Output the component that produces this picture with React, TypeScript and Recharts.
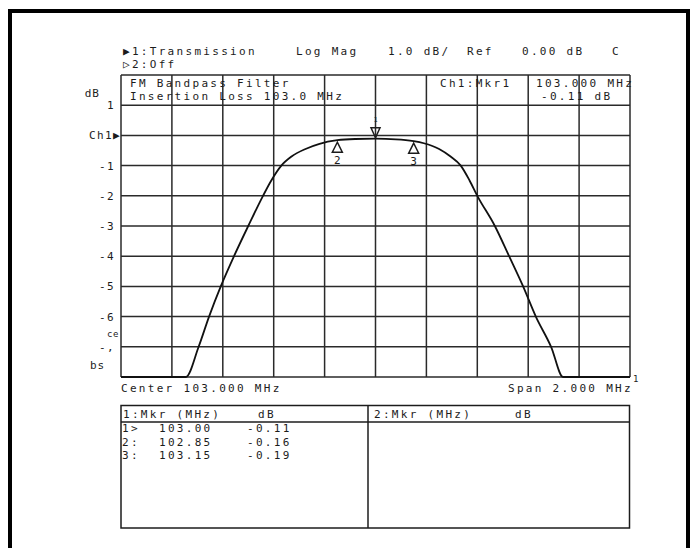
import React from 'react';
import { LineChart, Line, XAxis, YAxis, CartesianGrid, ReferenceDot } from 'recharts';

// Frequency (MHz) and transmission (dB)
const freqMHz = [102.0, 102.12, 102.255, 102.305, 102.346, 102.392, 102.444, 102.5, 102.558, 102.59, 102.63, 102.67, 102.725, 102.78, 102.85, 102.92, 103.0, 103.08, 103.15, 103.19, 103.25, 103.295, 103.335, 103.37, 103.4, 103.469, 103.525, 103.58, 103.63, 103.69, 103.737, 103.87, 104.0];
const gainDb = [-8, -8, -8, -7, -6, -5, -4, -3, -2, -1.5, -1.0, -0.7, -0.45, -0.28, -0.16, -0.12, -0.11, -0.13, -0.19, -0.26, -0.45, -0.7, -1.0, -1.5, -2, -3, -4, -5, -6, -7, -8, -8, -8];

const xTicks = [102.0, 102.2, 102.4, 102.6, 102.8, 103.0, 103.2, 103.4, 103.6, 103.8, 104.0];
const yTicks = [-8, -7, -6, -5, -4, -3, -2, -1, 0, 1, 2];
const yTickText: Record<string, string> = { '1': '1', '0': 'Ch1▶', '-1': '-1', '-2': '-2', '-3': '-3', '-4': '-4', '-5': '-5', '-6': '-6', '-7': '-,' };

const markerNames = ['1', '2', '3'];
const markerFreq = [103.0, 102.85, 103.15];
const markerDb = [-0.11, -0.16, -0.19];
const markerFreqText = ['103.00', '102.85', '103.15'];
const markerDbText = ['-0.11', '-0.16', '-0.19'];
const markerRowTag = ['1>', '2:', '3:'];

const data = freqMHz.map((f, i) => ({ f, db: gainDb[i] }));

const INK = '#1c1c1c';
const FONT = '"DejaVu Sans Mono", "Liberation Mono", monospace';
const txt: React.CSSProperties = { fontFamily: FONT, fontSize: 11, letterSpacing: 2.3, fill: INK };

const YTick = (props: any) => {
  const { x, y, payload } = props;
  const key = String(payload.value);
  const label = yTickText[key];
  if (!label) return null;
  const isRef = payload.value === 0;
  return (
    <text x={isRef ? x + 6 : x} y={y} dy={4} textAnchor="end" style={{ ...txt, letterSpacing: 1.4 }}>
      {label}
    </text>
  );
};

const DownMarker = (props: any) => {
  const { cx, cy } = props;
  if (cx == null || cy == null) return null;
  return (
    <g>
      <polygon points={`${cx - 4.5},${cy - 11} ${cx + 4.5},${cy - 11} ${cx},${cy - 1}`} fill="none" stroke={INK} strokeWidth={1.5} />
      <text x={cx} y={cy - 17} textAnchor="middle" style={{ fontFamily: FONT, fontSize: 7, fill: INK }}>1</text>
    </g>
  );
};

const UpMarker = (name: string) => (props: any) => {
  const { cx, cy } = props;
  if (cx == null || cy == null) return null;
  return (
    <g>
      <polygon points={`${cx},${cy + 2} ${cx - 5},${cy + 12} ${cx + 5},${cy + 12}`} fill="none" stroke={INK} strokeWidth={1.5} />
      <text x={cx} y={cy + 24} textAnchor="middle" style={{ ...txt, letterSpacing: 0 }}>{name}</text>
    </g>
  );
};

export default function App() {
  return (
    <div style={{ position: 'absolute', left: 0, top: 0, width: 691, height: 548, overflow: 'hidden', background: '#fff' }}>
      <div style={{ position: 'absolute', left: 8, top: 9, width: 682, height: 600, border: '4px solid #000', boxSizing: 'border-box' }} />
      <div style={{ position: 'absolute', left: 0, top: 0 }}>
        <LineChart width={691} height={548} data={data} margin={{ top: 75, right: 61, bottom: 171, left: 61 }}>
          <CartesianGrid stroke="#2a2a2a" strokeWidth={1.5} />
          <XAxis type="number" dataKey="f" domain={[102, 104]} ticks={xTicks} hide />
          <YAxis type="number" domain={[-8, 2]} ticks={yTicks} width={60} axisLine={false} tickLine={false} tickSize={0} tickMargin={6} tick={<YTick />} interval={0} />
          <Line dataKey="db" type="monotone" stroke="#111" strokeWidth={1.8} dot={false} isAnimationActive={false} />
          <ReferenceDot x={markerFreq[0]} y={markerDb[0]} r={0} shape={<DownMarker />} />
          <ReferenceDot x={markerFreq[1]} y={markerDb[1]} r={0} shape={UpMarker(markerNames[1])} />
          <ReferenceDot x={markerFreq[2]} y={markerDb[2]} r={0} shape={UpMarker(markerNames[2])} />
        </LineChart>
      </div>
      <svg width={691} height={548} style={{ position: 'absolute', left: 0, top: 0, pointerEvents: 'none' }}>
        {/* header */}
        <text x={123} y={55} style={txt}>▶1:Transmission</text>
        <text x={296} y={55} style={txt}>Log Mag</text>
        <text x={388} y={55} style={txt}>1.0 dB/</text>
        <text x={467} y={55} style={txt}>Ref</text>
        <text x={522} y={55} style={txt}>0.00 dB</text>
        <text x={612} y={55} style={txt}>C</text>
        <text x={123} y={68} style={txt}>▷2:Off</text>
        {/* annotations inside grid */}
        <text x={130} y={87} style={txt}>FM Bandpass Filter</text>
        <text x={130} y={100} style={txt}>Insertion Loss 103.0 MHz</text>
        <text x={440} y={87} style={txt}>Ch1:Mkr1</text>
        <text x={536} y={87} style={txt}>103.000 MHz</text>
        <text x={541} y={100} style={txt}>-0.11 dB</text>
        {/* left axis bits */}
        <text x={100} y={97} textAnchor="end" style={{ ...txt, letterSpacing: 1 }}>dB</text>
        <text x={107} y={337} style={{ ...txt, fontSize: 9, letterSpacing: 0.5 }}>ce</text>
        <text x={90} y={369} style={{ ...txt, letterSpacing: 1 }}>bs</text>
        {/* bottom labels */}
        <text x={121} y={392} style={txt}>Center 103.000 MHz</text>
        <text x={508} y={392} style={txt}>Span 2.000 MHz</text>
        <text x={633} y={382} style={{ ...txt, fontSize: 9, letterSpacing: 0 }}>1</text>
        {/* marker table */}
        <rect x={121} y={405.5} width={508.5} height={122.5} fill="none" stroke={INK} strokeWidth={1.5} />
        <line x1={121} y1={422} x2={629.5} y2={422} stroke={INK} strokeWidth={1.5} />
        <line x1={368} y1={405.5} x2={368} y2={528} stroke={INK} strokeWidth={1.5} />
        <text x={123} y={418} style={txt}>1:Mkr (MHz)</text>
        <text x={258} y={418} style={txt}>dB</text>
        <text x={374} y={418} style={txt}>2:Mkr (MHz)</text>
        <text x={515} y={418} style={txt}>dB</text>
        {markerNames.map((n, i) => (
          <g key={n}>
            <text x={122} y={432 + i * 13.5} style={txt}>{markerRowTag[i]}</text>
            <text x={159} y={432 + i * 13.5} style={txt}>{markerFreqText[i]}</text>
            <text x={247} y={432 + i * 13.5} style={txt}>{markerDbText[i]}</text>
          </g>
        ))}
      </svg>
    </div>
  );
}
